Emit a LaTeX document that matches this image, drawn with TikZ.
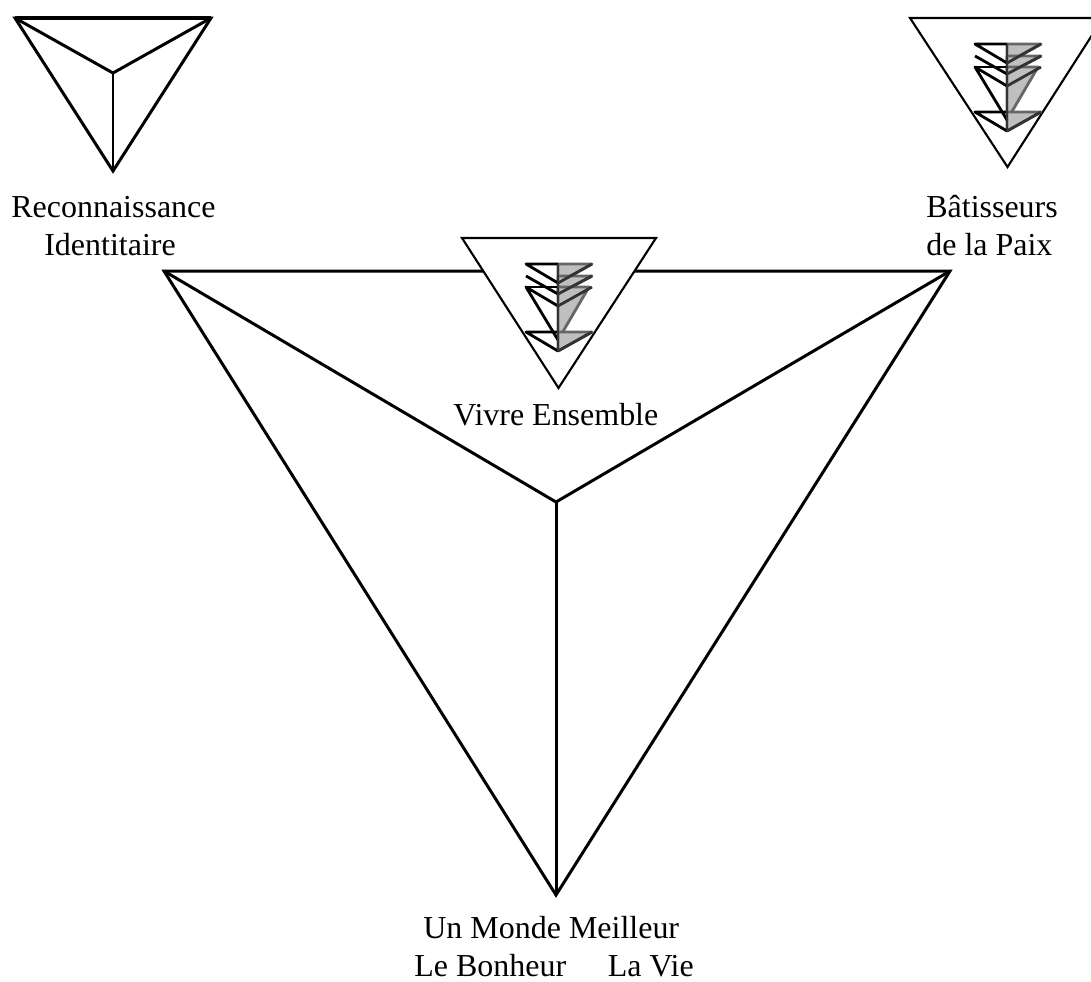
\documentclass[tikz,border=0pt]{standalone}
\usepackage{fontspec}
\setmainfont{Liberation Serif}
\tikzset{
	wall/.style={line width=1.7pt, black, line join=miter},
	topwall/.style={line width=2.2pt, black},
	thinwall/.style={line width=1.2pt, black, line join=miter},
	chevron/.style={line width=1.6pt, black, line join=round},
	chevronfill/.style={fill=black!25, draw=black!60, line width=1.6pt, line join=round},
	chevrondark/.style={line width=1.6pt, black!80, line join=round},
	caption/.style={inner sep=0pt, anchor=base west, font=\fontsize{18.2pt}{22pt}\selectfont},
	pics/arrowstack/.style={code={
		%right half first, the left half stays white
		\draw[chevronfill] (0,0) -- (34,0) -- (0,19) -- cycle;
		\draw[chevronfill] (0,12) -- (34,12) -- (0,30) -- cycle;
		\draw[chevronfill] (0,23) -- (31,23) -- (0,76) -- cycle;
		\draw[chevronfill] (0,68) -- (34,68) -- (0,87) -- cycle;
		\draw[chevrondark] (34,0) -- (0,19);
		\draw[chevrondark] (34,12) -- (0,30);
		\draw[chevrondark] (34,23) -- (0,42);
		\draw[chevrondark] (34,68) -- (0,87);
		\draw[chevron] (0,0) -- (-32,0) -- (0,19);
		\draw[chevron] (-32,12) -- (0,30);
		\draw[chevron] (0,42) -- (-32,23) -- (0,76);
		\draw[chevron] (0,23) -- (-32,23);
		\draw[chevron] (0,68) -- (-32,68) -- (0,87);
		\draw[chevrondark] (0,0) -- (0,87);
	}}
}
\begin{document}
\begin{tikzpicture}[x=0.02cm, y=-0.02cm]
	\useasboundingbox (0,0) rectangle (1091,981);
	\clip (0,0) rectangle (1091,981);
	%\draw [thin, help lines] (0,0) grid (1091,981);
	% big triangle
	\coordinate (bigA) at (164,271);
	\coordinate (bigB) at (950,271);
	\coordinate (bigC) at (556,895);
	\coordinate (bigO) at (556,502);
	\draw[wall] (bigA) -- (bigB) -- (bigC) -- cycle;
	\draw[wall] (bigA) -- (bigO);
	\draw[wall] (bigB) -- (bigO);
	\draw[wall] (bigC) -- (bigO);
	% small triangle, top left
	\coordinate (leftA) at (15,18);
	\coordinate (leftB) at (211,18);
	\coordinate (leftC) at (113,171);
	\coordinate (leftO) at (113,73);
	\draw[wall] (leftA) -- (leftB) -- (leftC) -- cycle;
	\draw[topwall] (leftA) -- (leftB);
	\draw[wall] (leftA) -- (leftO);
	\draw[wall] (leftB) -- (leftO);
	\draw[wall] (leftC) -- (leftO);
	% top right
	\draw[thinwall] (910,18) -- (1103,18) -- (1007.5,167) -- cycle;
	\pic at (1007,44) {arrowstack};
	% middle, on top of the big one
	\draw[thinwall, fill=white] (462,238) -- (656,238) -- (558.5,388) -- cycle;
	\pic at (558,264) {arrowstack};
	% labels
	\node[caption] (reco) at (11,217) {Reconnaissance};
	\node[caption] (iden) at (44,255.5) {Identitaire};
	\node[caption] (bati) at (926,217.5) {Bâtisseurs};
	\node[caption] (paix) at (926,255) {de la Paix};
	\node[caption] (vivre) at (453,425) {Vivre Ensemble};
	\node[caption] (monde) at (423,938) {Un Monde Meilleur};
	\node[caption] (vie) at (414,976) {Le Bonheur\hspace{1.3em}La Vie};
\end{tikzpicture}
\end{document}
